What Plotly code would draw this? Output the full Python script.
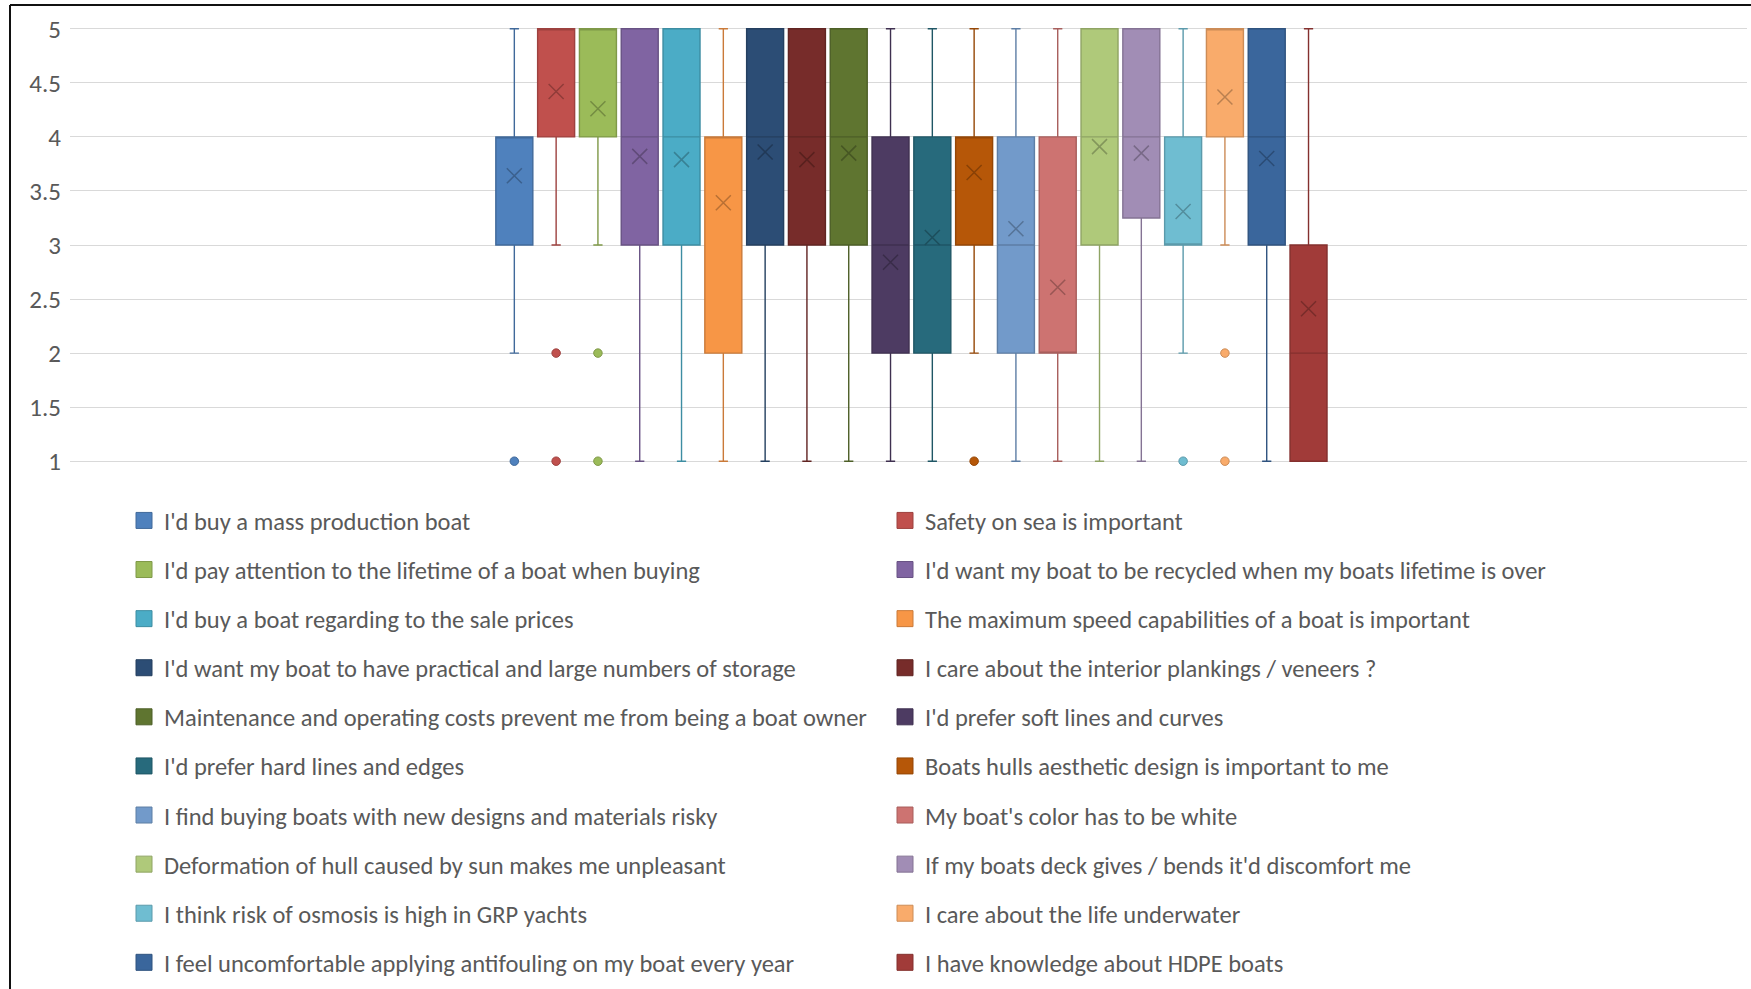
import plotly.graph_objects as go

# Survey statements, one box each (Likert scale 1-5)
questions = [
    "I'd buy a mass production boat",
    "Safety on sea is important",
    "I'd pay attention to the lifetime of a boat when buying",
    "I'd want my boat to be recycled when my boats lifetime is over",
    "I'd buy a boat regarding to the sale prices",
    "The maximum speed capabilities of a boat is important",
    "I'd want my boat to have practical and large numbers of storage",
    "I care about the interior plankings / veneers ?",
    "Maintenance and operating costs prevent me from being a boat owner",
    "I'd prefer soft lines and curves",
    "I'd prefer hard lines and edges",
    "Boats hulls aesthetic design is important to me",
    "I find buying boats with new designs and materials risky",
    "My boat's color has to be white",
    "Deformation of hull caused by sun makes me unpleasant",
    "If my boats deck gives / bends it'd discomfort me",
    "I think risk of osmosis is high in GRP yachts",
    "I care about the life underwater",
    "I feel uncomfortable applying antifouling on my boat every year",
    "I have knowledge about HDPE boats",
]

lower_whisker = [2, 3, 3, 1, 1, 1, 1, 1, 1, 1, 1, 2, 1, 1, 1, 1, 2, 3, 1, 1]
q1 = [3, 4, 4, 3, 3, 2, 3, 3, 3, 2, 2, 3, 2, 2, 3, 3.25, 3, 4, 3, 1]
median = [4, 5, 5, 4, 4, 4, 4, 4, 4, 3, 3, 4, 3, 2, 4, 4, 3, 5, 4, 2]
q3 = [4, 5, 5, 5, 5, 4, 5, 5, 5, 4, 4, 4, 4, 4, 5, 5, 4, 5, 5, 3]
upper_whisker = [5, 5, 5, 5, 5, 5, 5, 5, 5, 5, 5, 5, 5, 5, 5, 5, 5, 5, 5, 5]
means = [3.64, 4.42, 4.26, 3.82, 3.79, 3.39, 3.86, 3.79, 3.85, 2.84,
         3.07, 3.67, 3.15, 2.61, 3.91, 3.85, 3.31, 4.37, 3.80, 2.41]
outliers = [[1], [2, 1], [2, 1], [], [], [], [], [], [], [],
            [], [1], [], [], [], [], [1], [2, 1], [], []]

colors = [
    "#4F81BD", "#C0504D", "#9BBB59", "#8064A2", "#4BACC6", "#F79646",
    "#2C4D75", "#772C2A", "#5F7530", "#4D3B62", "#276A7C", "#B65708",
    "#729ACA", "#CD7371", "#AFC97A", "#A18DB5", "#6FBDD1", "#F9AB6B",
    "#3A669C", "#A13B39",
]

W, H = 1751, 989
ML, MR, MT, MB = 70, 4, 18, 517
Y_RANGE = [0.9, 5.1]


def shade(hex_color, f):
    h = hex_color.lstrip("#")
    r, g, b = (int(h[i:i + 2], 16) for i in (0, 2, 4))
    return "#%02X%02X%02X" % (int(r * f), int(g * f), int(b * f))


positions = list(range(len(questions)))
FONT = "Carlito, Lato, 'Open Sans', sans-serif"

fig = go.Figure()

for i, name in enumerate(questions):
    c = colors[i]
    edge = shade(c, 0.82)
    grp = f"g{i}"
    leg = "legend" if i == 0 else f"legend{i + 1}"

    fig.add_trace(go.Box(
        x=[positions[i]], q1=[q1[i]], median=[median[i]], q3=[q3[i]],
        lowerfence=[lower_whisker[i]], upperfence=[upper_whisker[i]],
        boxpoints=False, boxmean=False, width=0.885, whiskerwidth=0.25,
        fillcolor=c, line=dict(color=edge, width=1.4),
        name=name, legendgroup=grp, showlegend=False, hoverinfo="skip",
    ))
    # mean marker
    fig.add_trace(go.Scatter(
        x=[positions[i]], y=[means[i]], mode="markers",
        marker=dict(symbol="x-thin", size=15,
                    line=dict(color=shade(c, 0.75), width=1.5)),
        legendgroup=grp, showlegend=False, hoverinfo="skip",
    ))
    # outlying answers
    if outliers[i]:
        fig.add_trace(go.Scatter(
            x=[positions[i]] * len(outliers[i]), y=outliers[i], mode="markers",
            marker=dict(symbol="circle", size=8.5, color=c,
                        line=dict(color=edge, width=1)),
            legendgroup=grp, showlegend=False, hoverinfo="skip",
        ))
    # legend swatch
    fig.add_trace(go.Scatter(
        x=[None], y=[None], mode="markers", name=name,
        marker=dict(symbol="square", size=16, color=c,
                    line=dict(color=edge, width=1)),
        legendgroup=grp, showlegend=True, legend=leg,
    ))

# legend grid: two columns, ten rows
col_x = [124, 885]
row_y0, row_dy = 520.5, 49.1
legends = {}
for i in range(len(questions)):
    key = "legend" if i == 0 else f"legend{i + 1}"
    col, row = i % 2, i // 2
    legends[key] = dict(
        xref="container", yref="container",
        x=col_x[col] / W, y=1 - (row_y0 + row * row_dy) / H,
        xanchor="left", yanchor="middle",
        bgcolor="rgba(0,0,0,0)", borderwidth=0,
        font=dict(family=FONT, size=24.5, color="#595959"),
        itemclick=False, itemdoubleclick=False,
    )


def px_to_paper_x(px):
    return (px - ML) / (W - ML - MR)


def px_to_paper_y(py):
    return (H - MB - py) / (H - MT - MB)


frame = dict(color="#111111", width=2)
shapes = [
    dict(type="line", xref="paper", yref="paper", line=frame,
         x0=px_to_paper_x(10), x1=px_to_paper_x(W + 2),
         y0=px_to_paper_y(5), y1=px_to_paper_y(5)),
    dict(type="line", xref="paper", yref="paper", line=frame,
         x0=px_to_paper_x(10), x1=px_to_paper_x(10),
         y0=px_to_paper_y(5), y1=px_to_paper_y(H + 2)),
]

fig.update_layout(
    width=W, height=H,
    margin=dict(l=ML, r=MR, t=MT, b=MB, autoexpand=False),
    paper_bgcolor="white", plot_bgcolor="white",
    font=dict(family=FONT, color="#595959"),
    xaxis=dict(range=[-10.63, 29.49], showgrid=False, zeroline=False,
               showticklabels=False, showline=False, fixedrange=True),
    yaxis=dict(range=Y_RANGE, tickvals=[1, 1.5, 2, 2.5, 3, 3.5, 4, 4.5, 5],
               ticktext=["1", "1.5", "2", "2.5", "3", "3.5", "4", "4.5", "5"],
               showgrid=True, gridcolor="#D9D9D9", gridwidth=1.2,
               zeroline=False, showline=False, ticks="",
               ticklabelstandoff=8,
               tickfont=dict(family=FONT, size=25, color="#595959"),
               fixedrange=True),
    shapes=shapes,
    **legends,
)

fig.write_html("out.html")
